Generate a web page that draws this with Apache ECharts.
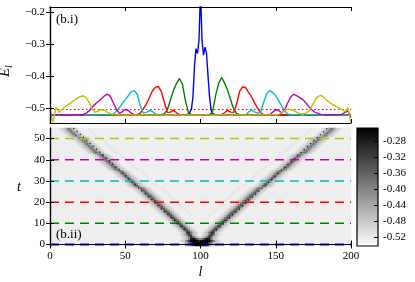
<!DOCTYPE html>
<html><head><meta charset="utf-8">
<script src="https://cdn.jsdelivr.net/npm/echarts@6/dist/echarts.min.js"></script>
<style>html,body{margin:0;padding:0;background:#fff}#c{width:415px;height:282px}</style>
</head><body><div id="c"></div>
<script>
// ---------- DATA ----------
const lGrid = [0,2,4,6,8,10,12,14,16,18,20,22,24,26,28,30,32,34,36,38,40,42,44,46,48,50,52,54,56,58,60,62,64,66,68,70,72,74,76,78,80,82,84,86,88,90,92,94,96,98,100,102,104,106,108,110,112,114,116,118,120,122,124,126,128,130,132,134,136,138,140,142,144,146,148,150,152,154,156,158,160,162,164,166,168,170,172,174,176,178,180,182,184,186,188,190,192,194,196,198,200];

const blueL = [0,88,90,92,93,94,95,96,97,98,99,100,101,102,103,104,105,106,107,108,110,112,200];
const blueE = [-0.522,-0.522,-0.521,-0.519,-0.512,-0.503,-0.465,-0.370,-0.315,-0.330,-0.290,-0.130,-0.290,-0.335,-0.310,-0.330,-0.400,-0.465,-0.505,-0.518,-0.521,-0.522,-0.522];

const greenE = [
-0.522,-0.522,-0.521,-0.522,-0.523,-0.522,-0.521,-0.522,-0.522,-0.522,
-0.521,-0.522,-0.523,-0.522,-0.522,-0.521,-0.522,-0.522,-0.523,-0.522,
-0.522,-0.521,-0.522,-0.522,-0.523,-0.522,-0.521,-0.522,-0.522,-0.522,
-0.522,-0.523,-0.522,-0.521,-0.522,-0.522,-0.522,-0.521,-0.518,-0.505,
-0.476,-0.446,-0.424,-0.408,-0.426,-0.478,-0.514,-0.521,-0.522,-0.521,
-0.522,-0.521,-0.522,-0.521,-0.512,-0.462,-0.424,-0.405,-0.422,-0.445,
-0.474,-0.503,-0.517,-0.521,-0.522,-0.522,-0.521,-0.522,-0.523,-0.522,
-0.522,-0.521,-0.522,-0.522,-0.523,-0.522,-0.521,-0.522,-0.522,-0.522,
-0.521,-0.522,-0.522,-0.523,-0.522,-0.521,-0.522,-0.522,-0.522,-0.521,
-0.522,-0.522,-0.523,-0.522,-0.521,-0.522,-0.522,-0.522,-0.521,-0.522,
-0.522];

const redE = [
-0.522,-0.521,-0.522,-0.522,-0.523,-0.522,-0.521,-0.522,-0.522,-0.522,
-0.522,-0.522,-0.521,-0.522,-0.522,-0.523,-0.522,-0.521,-0.522,-0.522,
-0.521,-0.522,-0.522,-0.523,-0.522,-0.522,-0.521,-0.522,-0.522,-0.521,
-0.516,-0.503,-0.488,-0.468,-0.447,-0.436,-0.433,-0.449,-0.483,-0.514,
-0.513,-0.507,-0.515,-0.521,-0.522,-0.522,-0.521,-0.522,-0.522,-0.523,
-0.522,-0.521,-0.522,-0.522,-0.521,-0.522,-0.522,-0.521,-0.515,-0.507,
-0.513,-0.514,-0.488,-0.448,-0.434,-0.437,-0.452,-0.466,-0.485,-0.501,
-0.515,-0.521,-0.522,-0.522,-0.521,-0.522,-0.522,-0.523,-0.522,-0.521,
-0.522,-0.522,-0.521,-0.522,-0.523,-0.522,-0.522,-0.521,-0.522,-0.522,
-0.521,-0.522,-0.522,-0.522,-0.523,-0.522,-0.521,-0.522,-0.522,-0.522,
-0.522];

const cyanE = [
-0.522,-0.522,-0.523,-0.522,-0.521,-0.522,-0.522,-0.522,-0.521,-0.522,
-0.522,-0.521,-0.522,-0.522,-0.523,-0.522,-0.522,-0.521,-0.522,-0.522,
-0.522,-0.520,-0.511,-0.499,-0.487,-0.474,-0.462,-0.449,-0.446,-0.458,
-0.493,-0.516,-0.514,-0.508,-0.511,-0.519,-0.522,-0.521,-0.522,-0.522,
-0.522,-0.522,-0.521,-0.522,-0.523,-0.522,-0.522,-0.521,-0.522,-0.522,
-0.522,-0.521,-0.522,-0.522,-0.522,-0.523,-0.522,-0.522,-0.521,-0.522,
-0.522,-0.521,-0.522,-0.522,-0.521,-0.522,-0.513,-0.507,-0.512,-0.516,
-0.512,-0.482,-0.455,-0.446,-0.452,-0.462,-0.478,-0.494,-0.509,-0.519,
-0.522,-0.521,-0.522,-0.522,-0.523,-0.522,-0.521,-0.522,-0.522,-0.522,
-0.522,-0.522,-0.521,-0.522,-0.522,-0.523,-0.522,-0.522,-0.521,-0.522,
-0.522];

const magentaE = [
-0.520,-0.523,-0.522,-0.521,-0.522,-0.522,-0.523,-0.522,-0.521,-0.522,
-0.522,-0.520,-0.516,-0.509,-0.498,-0.488,-0.480,-0.472,-0.463,-0.457,
-0.463,-0.483,-0.503,-0.517,-0.512,-0.505,-0.508,-0.516,-0.521,-0.522,
-0.522,-0.521,-0.522,-0.522,-0.523,-0.522,-0.521,-0.522,-0.522,-0.522,
-0.521,-0.522,-0.522,-0.523,-0.522,-0.522,-0.521,-0.522,-0.522,-0.522,
-0.522,-0.522,-0.521,-0.522,-0.522,-0.522,-0.523,-0.522,-0.521,-0.522,
-0.522,-0.521,-0.522,-0.522,-0.523,-0.522,-0.522,-0.521,-0.522,-0.522,
-0.522,-0.521,-0.522,-0.521,-0.513,-0.505,-0.508,-0.516,-0.505,-0.484,
-0.465,-0.457,-0.462,-0.468,-0.474,-0.484,-0.496,-0.506,-0.513,-0.517,
-0.520,-0.521,-0.522,-0.521,-0.522,-0.522,-0.521,-0.520,-0.514,-0.509,
-0.530];

const yellowE = [
-0.505,-0.546,-0.498,-0.514,-0.505,-0.496,-0.490,-0.484,-0.476,-0.470,
-0.465,-0.462,-0.468,-0.483,-0.502,-0.514,-0.510,-0.506,-0.507,-0.513,
-0.518,-0.521,-0.522,-0.521,-0.522,-0.523,-0.522,-0.521,-0.522,-0.522,
-0.522,-0.521,-0.522,-0.523,-0.522,-0.522,-0.521,-0.522,-0.522,-0.523,
-0.522,-0.521,-0.522,-0.522,-0.523,-0.522,-0.521,-0.522,-0.522,-0.522,
-0.522,-0.522,-0.521,-0.522,-0.523,-0.522,-0.522,-0.521,-0.522,-0.522,
-0.523,-0.522,-0.521,-0.522,-0.522,-0.522,-0.523,-0.522,-0.521,-0.522,
-0.522,-0.521,-0.522,-0.522,-0.521,-0.522,-0.520,-0.515,-0.508,-0.504,
-0.505,-0.508,-0.514,-0.518,-0.519,-0.516,-0.510,-0.495,-0.476,-0.465,
-0.461,-0.467,-0.476,-0.484,-0.490,-0.495,-0.500,-0.505,-0.512,-0.499,
-0.546];

const refRed = -0.505;   // red dotted reference level
const refBlue = -0.522;  // blue dotted reference level

const topYTicks = [-0.5,-0.4,-0.3,-0.2];
const xTicks = [0,50,100,150,200];
const tTicks = [0,10,20,30,40,50];
const cbTicks = [-0.52,-0.48,-0.44,-0.40,-0.36,-0.32,-0.28];
const cbMin = -0.542, cbMax = -0.247;

// heatmap: 133 columns (l), 56 rows (t, bottom to top).
// each row = [number of background cells, pattern]; it is the left half + centre column, mirrored to the right.
const heatLevelMin = -0.534, heatLevelStep = 0.012; // 'a' -> -0.534, 'b' -> -0.522 (background), ...
const heatHalfRows = [
 [59,'cefmsyzz'],[58,'cefmsyzzy'],[57,'cefmsxzywu'],[58,'cefmvxtnk'],
 [58,'cegntngec'],[57,'cegntngec'],[57,'cegntngec'],
 [56,'cegmsmgec'],[55,'cegmsmgec'],[54,'cegmsmgec'],
 [53,'cegmrmgec'],[52,'cegmrmgec'],[51,'cegmrmgec'],[50,'cegmrmgec'],
 [49,'cegmrmgecbbbbc'],[48,'cegmrmgecbbbbc'],[47,'cegmrmgecbbbbc'],
 [46,'ceglqlgecbbbbc'],[45,'ceglqlgecbbbbc'],[44,'ceglqlgecbbbbc'],[43,'ceglqlgecbbbbc'],
 [42,'ceglqlgecbbbbc'],[41,'ceglqlgecbbbbc'],[40,'ceglqlgecbbbbc'],[39,'ceglqlgecbbbbc'],
 [38,'cefkpkfecbbbbc'],[37,'cefkpkfecbbbbc'],[36,'cefkpkfecbbbbc'],[34,'cefkpkfecbbbbc'],[33,'cefkpkfecbbbbc'],
 [32,'cefkpkfecbbbbc'],[31,'cefkpkfecbbbbc'],[30,'cefkpkfecbbbbc'],[29,'cefkpkfecbbbbc'],[28,'cefkpkfecbbbbc'],
 [27,'cefkokfecbbbbc'],[25,'cefkokfecbbbbc'],[24,'cefkokfecbbbbc'],[23,'cefkokfecbbbbc'],[22,'cefkokfecbbbbc'],
 [21,'cefkokfecbbbbc'],[20,'cefkokfecbbbbc'],[19,'cefkokfecbbbbc'],[18,'cefkokfecbbbbc'],[16,'cefkokfecbbbbc'],
 [15,'cefjnjfecbbbbc'],[14,'cefjnjfecbbbbc'],[13,'cefjnjfecbbbbc'],[12,'cefjnjfecbbbbc'],[11,'cefjnjfecbbbbc'],
 [10,'cefjnjfecbbbbc'],[9,'cefjnjfecbbbbc'],[7,'cefjnjfecbbbbc'],[6,'cefjnjfecbbbbc'],[5,'cefjnjfecbbbbc'],
 [4,'cefjnjfecbbbbc']
];

const dashTimes = [0,10,20,30,40,50];
const dashColors = ['#0000ff','#008000','#ff0000','#00bfbf','#bf00bf','#bfbf00'];
const frontL = [15.5,100,184.5];
const frontT = [55,0,55];

// ---------- BUILD ----------
const HALF = 67;
const heatCells = [];
heatHalfRows.forEach((row, r) => {
  const half = ('b'.repeat(row[0]) + row[1]).padEnd(HALF, 'b').slice(0, HALF);
  const full = half + half.slice(0, HALF - 1).split('').reverse().join('');
  for (let c = 0; c < full.length; c++) {
    let v = heatLevelMin + heatLevelStep * (full.charCodeAt(c) - 97);
    v = Math.max(cbMin, Math.min(cbMax, v));
    heatCells.push([c, r, v]);
  }
});
const nCols = HALF * 2 - 1, nRows = heatHalfRows.length;
const colCats = [], rowCats = [];
for (let i = 0; i < nCols; i++) colCats.push(String(i));
for (let i = 0; i < nRows; i++) rowCats.push(String(i));

const pairs = (xs, ys) => xs.map((x, i) => [x, ys[i]]);
const FONT = 'Liberation Serif';
const axisLineS = {show: true, lineStyle: {color: '#000', width: 1.2}};
const tickS = (vals) => ({show: true, inside: true, length: 4, lineStyle: {color: '#000', width: 1}, customValues: vals});
const noLabel = {show: false};

const lineSeries = (name, data, color, w) => ({
  name, type: 'line', xAxisIndex: 0, yAxisIndex: 0, data, symbol: 'none', silent: true,
  lineStyle: {color, width: w}, clip: true
});

const series = [
  {type: 'line', xAxisIndex: 0, yAxisIndex: 0, data: [[0, refRed], [200, refRed]], symbol: 'none', silent: true,
   lineStyle: {color: '#ff0000', width: 1, type: [1.5, 2.5]}},
  {type: 'line', xAxisIndex: 0, yAxisIndex: 0, data: [[0, refBlue], [200, refBlue]], symbol: 'none', silent: true,
   lineStyle: {color: '#0000ff', width: 1, type: [2, 2]}},
  lineSeries('t0', pairs(blueL, blueE), '#0000ff', 1.4),
  lineSeries('t10', pairs(lGrid, greenE), '#008000', 1.4),
  lineSeries('t20', pairs(lGrid, redE), '#ff0000', 1.4),
  lineSeries('t30', pairs(lGrid, cyanE), '#00bfbf', 1.4),
  lineSeries('t40', pairs(lGrid, magentaE), '#bf00bf', 1.4),
  lineSeries('t50', pairs(lGrid, yellowE), '#bfbf00', 1.4),
  {type: 'heatmap', xAxisIndex: 4, yAxisIndex: 4, data: heatCells, silent: true, progressive: 0,
   itemStyle: {borderWidth: 0}, emphasis: {disabled: true}}
];
const heatIndex = series.length - 1;
dashTimes.forEach((t, i) => {
  series.push({type: 'line', xAxisIndex: 2, yAxisIndex: 2, data: [[0, t], [200, t]], symbol: 'none', silent: true,
    lineStyle: {color: dashColors[i], width: i === 0 ? 2.2 : 1.5, type: [9, 6]}, z: 3});
});
series.push({type: 'line', xAxisIndex: 2, yAxisIndex: 2, data: pairs(frontL, frontT), symbol: 'none', silent: true,
  lineStyle: {color: '#111', width: 1.2, type: [1.2, 3.2]}, z: 4});
series.push({type: 'custom', xAxisIndex: 5, yAxisIndex: 5, data: [[0, cbMin, cbMax]], silent: true,
  renderItem: (params, api) => {
    const p1 = api.coord([api.value(0), api.value(1)]);
    const p2 = api.coord([api.value(0), api.value(2)]);
    const w = api.size([1, 0])[0];
    return {type: 'rect', shape: {x: p1[0] - w / 2, y: p2[1], width: w, height: p1[1] - p2[1]},
      style: {fill: new echarts.graphic.LinearGradient(0, 0, 0, 1, [{offset: 0, color: '#000'}, {offset: 1, color: '#fff'}]),
        stroke: '#000', lineWidth: 1.2}};
  }});

const lbl = (fmt, vals, margin) => ({show: true, color: '#000', fontFamily: FONT, fontSize: 11, margin, formatter: fmt, customValues: vals});
const gridBase = {containLabel: false, outerBoundsMode: 'none'};

const option = {
  animation: false,
  backgroundColor: '#fff',
  textStyle: {fontFamily: FONT},
  grid: [
    Object.assign({left: 50, top: 7, width: 301, height: 116}, gridBase),
    Object.assign({left: 50, top: 128, width: 301, height: 118}, gridBase),
    Object.assign({left: 357, top: 128, width: 21, height: 118}, gridBase)
  ],
  xAxis: [
    {gridIndex: 0, type: 'value', min: 0, max: 200, position: 'bottom', axisLine: axisLineS, axisTick: tickS(xTicks), axisLabel: noLabel, splitLine: {show: false}, z: 5},
    {gridIndex: 0, type: 'value', min: 0, max: 200, position: 'top', axisLine: axisLineS, axisTick: tickS(xTicks), axisLabel: noLabel, splitLine: {show: false}, z: 5},
    {gridIndex: 1, type: 'value', min: 0, max: 200, position: 'bottom', axisLine: axisLineS, axisTick: tickS(xTicks),
     axisLabel: lbl(v => String(v), xTicks, 5), splitLine: {show: false}, z: 5,
     name: 'l', nameLocation: 'middle', nameGap: 19, nameTextStyle: {fontFamily: FONT, fontStyle: 'italic', fontSize: 14, color: '#000'}},
    {gridIndex: 1, type: 'value', min: 0, max: 200, position: 'top', axisLine: axisLineS, axisTick: tickS(xTicks), axisLabel: noLabel, splitLine: {show: false}, z: 5},
    {gridIndex: 1, type: 'category', data: colCats, show: false, boundaryGap: true},
    {gridIndex: 2, type: 'category', data: ['cb'], show: false, boundaryGap: true}
  ],
  yAxis: [
    {gridIndex: 0, type: 'value', min: -0.547, max: -0.185, position: 'left', axisLine: axisLineS, axisTick: tickS(topYTicks),
     axisLabel: lbl(v => (v < 0 ? '\u2212' : '') + Math.abs(v).toFixed(1), topYTicks, 5), splitLine: {show: false}, z: 5,
     name: '{e|\u0112}{s|l}', nameLocation: 'middle', nameGap: 33,
     nameTextStyle: {color: '#000', padding: [0, 12, 0, 0], rich: {
       e: {fontFamily: FONT, fontStyle: 'italic', fontSize: 14, color: '#000'},
       s: {fontFamily: FONT, fontStyle: 'italic', fontSize: 10, color: '#000', padding: [8, 0, 0, 0]}
     }}},
    {gridIndex: 0, type: 'value', min: -0.547, max: -0.185, position: 'right', axisLine: axisLineS, axisTick: tickS(topYTicks), axisLabel: noLabel, splitLine: {show: false}, z: 5},
    {gridIndex: 1, type: 'value', min: -0.7, max: 55, position: 'left', axisLine: axisLineS, axisTick: tickS(tTicks),
     axisLabel: lbl(v => String(v), tTicks, 5), splitLine: {show: false}, z: 5,
     name: 't', nameLocation: 'middle', nameGap: 29, nameRotate: 0, nameTextStyle: {fontFamily: FONT, fontStyle: 'italic', fontSize: 14, color: '#000'}},
    {gridIndex: 1, type: 'value', min: -0.7, max: 55, position: 'right', axisLine: axisLineS, axisTick: tickS(tTicks), axisLabel: noLabel, splitLine: {show: false}, z: 5},
    {gridIndex: 1, type: 'category', data: rowCats, show: false, boundaryGap: true},
    {gridIndex: 2, type: 'value', min: cbMin, max: cbMax, position: 'right', axisLine: {show: false}, axisTick: tickS(cbTicks),
     axisLabel: lbl(v => v.toFixed(2), cbTicks, 5), splitLine: {show: false}, z: 5}
  ],
  visualMap: [{type: 'continuous', show: false, seriesIndex: heatIndex, min: cbMin, max: cbMax, inRange: {color: ['#ffffff', '#000000']}}],
  graphic: [
    {type: 'text', left: 56, top: 13, style: {text: '(b.i)', font: '13px "Liberation Serif"', fill: '#000'}, z: 10},
    {type: 'text', left: 56, top: 228, style: {text: '(b.ii)', font: '13px "Liberation Serif"', fill: '#000'}, z: 10}
  ],
  series
};
const chart = echarts.init(document.getElementById('c'), null, {renderer: 'canvas'});
chart.setOption(option);
</script></body></html>
